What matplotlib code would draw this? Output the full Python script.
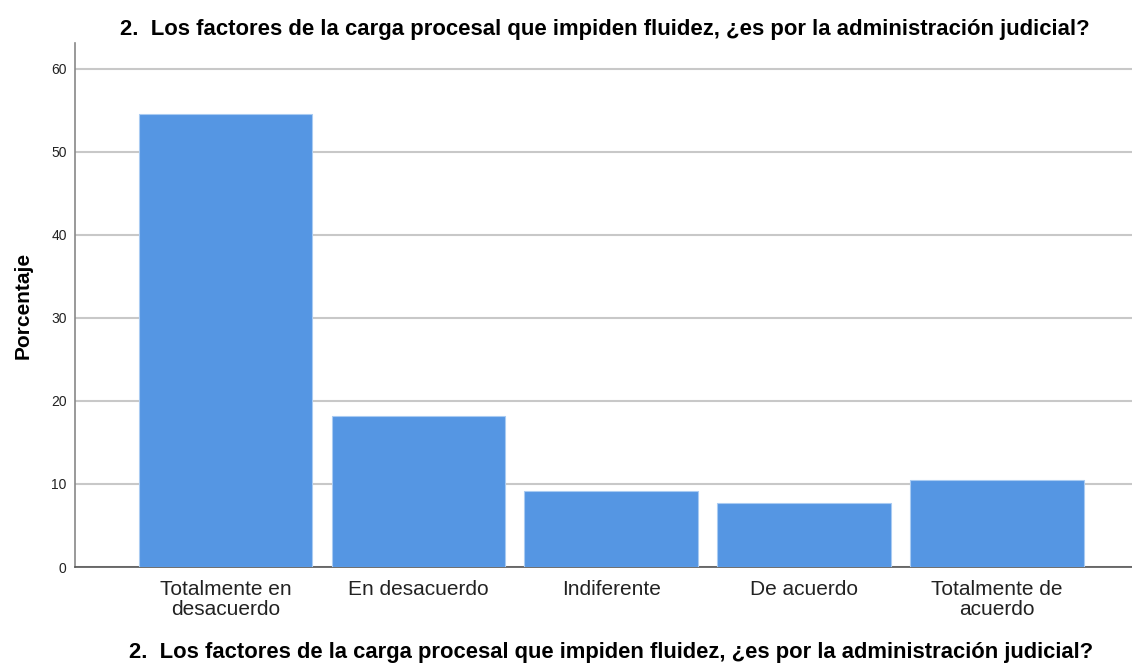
import matplotlib
matplotlib.use("Agg")
import matplotlib.pyplot as plt

categories = ["Totalmente en\ndesacuerdo", "En desacuerdo", "Indiferente", "De acuerdo", "Totalmente de\nacuerdo"]
percentages = [54.5, 18.2, 9.1, 7.7, 10.5]
yticks = [0, 10, 20, 30, 40, 50, 60]
title = "2.  Los factores de la carga procesal que impiden fluidez, ¿es por la administración judicial?"

plt.rcParams['font.family'] = ['Liberation Sans', 'DejaVu Sans']

fig = plt.figure(figsize=(11.32, 6.66), dpi=100)
ax = fig.add_axes([0.0663, 0.1486, 0.9337, 0.7868])

x = list(range(len(categories)))
ax.bar(x, percentages, width=0.9, color="#5596E3", edgecolor="#A9CBF2", linewidth=0.8, zorder=3)

ax.set_xlim(-0.78, 4.70)
ax.set_ylim(0, 63.1)
ax.set_yticks(yticks)
ax.set_yticklabels([str(v) for v in yticks], fontsize=10, color="#222222")
ax.yaxis.grid(True, color="#C8C8C8", linewidth=1.5, zorder=0)
ax.set_axisbelow(True)

ax.set_xticks(x)
ax.set_xticklabels(categories, fontsize=15, color="#222222", linespacing=1.1)
ax.tick_params(axis='x', length=0, pad=9)
ax.tick_params(axis='y', length=0, pad=6)

for s in ["top", "right"]:
    ax.spines[s].set_visible(False)
ax.spines["left"].set_color("#888888")
ax.spines["left"].set_linewidth(1.2)
ax.spines["bottom"].set_color("#555555")
ax.spines["bottom"].set_linewidth(1.2)

ax.set_ylabel("Porcentaje", fontsize=15, fontweight="bold", labelpad=13.5)
fig.text(0.540, 0.021, title, ha="center", va="center", fontsize=15.8, fontweight="bold")
fig.text(0.534, 0.955, title, ha="center", va="center", fontsize=15.9, fontweight="bold")

fig.savefig("out.png", dpi=100)
